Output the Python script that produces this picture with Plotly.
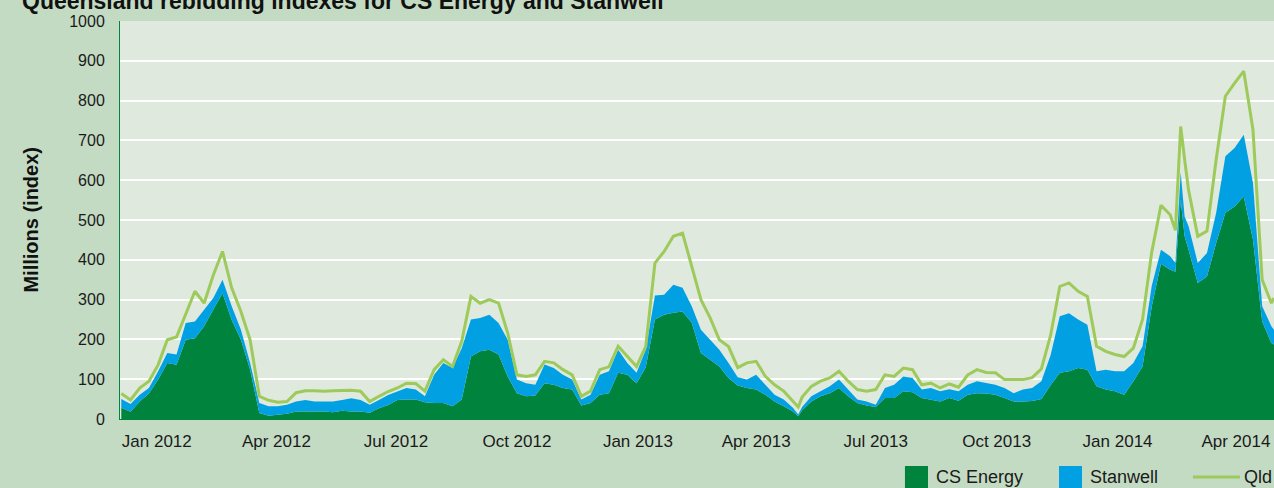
import plotly.graph_objects as go

dates = [
    "2011-12-05", "2011-12-12", "2011-12-19", "2011-12-26",
    "2012-01-02", "2012-01-09", "2012-01-16", "2012-01-23", "2012-01-30",
    "2012-02-06", "2012-02-13", "2012-02-20", "2012-02-27",
    "2012-03-05", "2012-03-12", "2012-03-19", "2012-03-26",
    "2012-04-02", "2012-04-09", "2012-04-16", "2012-04-23", "2012-04-30",
    "2012-05-07", "2012-05-14", "2012-05-21", "2012-05-28",
    "2012-06-04", "2012-06-11", "2012-06-18", "2012-06-25",
    "2012-07-02", "2012-07-09", "2012-07-16", "2012-07-23", "2012-07-30",
    "2012-08-06", "2012-08-13", "2012-08-20", "2012-08-27",
    "2012-09-03", "2012-09-10", "2012-09-17", "2012-09-24",
    "2012-10-01", "2012-10-08", "2012-10-15", "2012-10-22", "2012-10-29",
    "2012-11-05", "2012-11-12", "2012-11-19", "2012-11-26",
    "2012-12-03", "2012-12-10", "2012-12-17", "2012-12-24", "2012-12-31",
    "2013-01-07", "2013-01-14", "2013-01-21", "2013-01-28",
    "2013-02-04", "2013-02-11", "2013-02-18", "2013-02-25",
    "2013-03-04", "2013-03-11", "2013-03-18", "2013-03-25",
    "2013-04-01", "2013-04-08", "2013-04-15", "2013-04-22", "2013-04-29",
    "2013-05-03", "2013-05-06", "2013-05-13", "2013-05-20", "2013-05-27",
    "2013-06-03", "2013-06-10", "2013-06-17", "2013-06-24",
    "2013-07-01", "2013-07-08", "2013-07-15", "2013-07-22", "2013-07-29",
    "2013-08-05", "2013-08-12", "2013-08-19", "2013-08-26",
    "2013-09-02", "2013-09-09", "2013-09-16", "2013-09-23", "2013-09-30",
    "2013-10-07", "2013-10-14", "2013-10-21", "2013-10-28",
    "2013-11-04", "2013-11-11", "2013-11-18", "2013-11-25",
    "2013-12-02", "2013-12-09", "2013-12-16", "2013-12-23", "2013-12-30",
    "2014-01-06", "2014-01-13", "2014-01-20", "2014-01-27",
    "2014-02-03", "2014-02-10", "2014-02-14", "2014-02-18", "2014-02-21", "2014-02-24",
    "2014-03-03", "2014-03-10", "2014-03-17", "2014-03-24", "2014-03-31",
    "2014-04-07", "2014-04-14", "2014-04-21", "2014-04-28", "2014-04-30",
]

cs_energy = [
    28, 18, 44, 64,
    99, 141, 136, 199, 203,
    233, 275, 316, 249,
    199, 124, 15, 8,
    11, 13, 19, 19, 19,
    19, 17, 21, 19,
    19, 16, 27, 35,
    48, 49, 49, 42, 40,
    40, 32, 49, 157,
    170, 174, 162, 107,
    65, 57, 59, 90, 86,
    78, 74, 34, 40,
    61, 65, 116, 111, 90,
    130, 250, 262, 267,
    270, 242, 166, 149,
    132, 103, 84, 78,
    74, 61, 44, 32, 19,
    7, 22, 44, 57, 65,
    78, 57, 40, 34,
    30, 53, 53, 70, 67,
    53, 49, 44, 53,
    46, 61, 65, 64, 61,
    53, 44, 44, 45,
    50, 85, 116, 120,
    128, 124, 82, 74, 70,
    61, 95, 132, 283,
    390, 375, 370, 550, 459, 425,
    342, 358, 442, 518, 534,
    559, 451, 245, 191, 187,
]

stanwell = [
    22, 20, 17, 14,
    21, 25, 26, 42, 42,
    42, 29, 34, 34,
    25, 17, 25, 24,
    21, 23, 25, 29, 25,
    25, 27, 27, 33,
    29, 20, 21, 25,
    21, 29, 25, 15, 71,
    101, 96, 129, 93,
    84, 88, 79, 92,
    34, 33, 27, 47, 42,
    33, 25, 15, 21,
    50, 55, 58, 30, 26,
    44, 60, 50, 70,
    60, 41, 58, 50,
    42, 38, 21, 21,
    37, 25, 17, 17, 9,
    4, 8, 13, 13, 17,
    21, 17, 9, 10,
    6, 25, 33, 37, 36,
    21, 29, 26, 22,
    24, 25, 30, 26, 25,
    25, 21, 30, 33,
    45, 75, 142, 146,
    122, 113, 38, 50, 50,
    59, 46, 51, 52,
    35, 34, 22, 70, 50, 59,
    50, 59, 76, 142, 147,
    155, 142, 38, 42, 37,
]

qld = [
    64, 48, 78, 95,
    136, 199, 206, 262, 321,
    291, 362, 421, 329,
    270, 199, 57, 47,
    42, 44, 66, 71, 71,
    70, 71, 72, 72,
    70, 44, 57, 69,
    78, 90, 89, 70, 124,
    149, 132, 195, 308,
    291, 300, 291, 216,
    111, 107, 111, 145, 141,
    124, 111, 57, 70,
    124, 131, 183, 157, 132,
    182, 392, 421, 459,
    467, 383, 300, 254,
    199, 182, 129, 141,
    145, 107, 86, 70, 44,
    30, 55, 82, 95, 103,
    120, 95, 74, 70,
    74, 111, 107, 128, 124,
    86, 90, 78, 88,
    80, 111, 124, 117, 116,
    99, 99, 99, 104,
    126, 210, 333, 342,
    321, 308, 183, 170, 162,
    157, 178, 250, 420,
    537, 513, 474, 735, 652, 575,
    459, 472, 652, 811, 844,
    874, 727, 350, 291, 304,
]

series_names = ["CS Energy", "Stanwell", "Qld"]
tick_dates = ["2012-01-01", "2012-04-01", "2012-07-01", "2012-10-01", "2013-01-01",
              "2013-04-01", "2013-07-01", "2013-10-01", "2014-01-01", "2014-04-01"]
tick_labels = ["Jan 2012", "Apr 2012", "Jul 2012", "Oct 2012", "Jan 2013",
               "Apr 2013", "Jul 2013", "Oct 2013", "Jan 2014", "Apr 2014"]

GREEN = "#00843d"
BLUE = "#00a0e3"
LINE = "#9dca5a"
FONT = "Liberation Sans, Arial, sans-serif"
TXT = "#1a1a1a"

fig = go.Figure()
fig.add_trace(go.Scatter(x=dates, y=cs_energy, name=series_names[0], stackgroup="one",
                         mode="lines", line=dict(width=0, color=GREEN), fillcolor=GREEN))
fig.add_trace(go.Scatter(x=dates, y=stanwell, name=series_names[1], stackgroup="one",
                         mode="lines", line=dict(width=0, color=BLUE), fillcolor=BLUE))
fig.add_trace(go.Scatter(x=dates, y=qld, name=series_names[2], mode="lines",
                         line=dict(width=3, color=LINE)))

# legend drawn as swatches + labels below the plot (paper coordinates)
legend_shapes = [
    dict(type="rect", xref="paper", yref="paper", x0=0.6802, x1=0.7002, y0=-0.1181, y1=-0.18,
         fillcolor=GREEN, line=dict(width=0)),
    dict(type="rect", xref="paper", yref="paper", x0=0.8137, x1=0.8336, y0=-0.1181, y1=-0.18,
         fillcolor=BLUE, line=dict(width=0)),
    dict(type="line", xref="paper", yref="paper", x0=0.9298, x1=0.9705, y0=-0.1457, y1=-0.1457,
         line=dict(width=3, color=LINE)),
]
legend_labels = [
    dict(text=series_names[0], x=0.7050),
    dict(text=series_names[1], x=0.8388),
    dict(text=series_names[2], x=0.9722),
]
annotations = [
    dict(text=l["text"], xref="paper", yref="paper", x=l["x"], y=-0.1457,
         xanchor="left", yanchor="middle", showarrow=False,
         font=dict(size=18, color=TXT))
    for l in legend_labels
]
annotations += [
    dict(text="<b>Millions (index)</b>", textangle=-90, xref="paper", yref="paper",
         x=-0.0775, y=0.5, xanchor="center", yanchor="middle", showarrow=False,
         font=dict(size=20, color="#111111")),
    dict(text="<b>Queensland rebidding indexes for CS Energy and Stanwell</b>",
         xref="paper", yref="paper", x=-0.087, y=1.013, xanchor="left", yanchor="bottom",
         showarrow=False, font=dict(size=23, color="#111111")),
]

fig.update_layout(
    width=1274, height=488,
    paper_bgcolor="#c4dbc3",
    plot_bgcolor="#dfe9de",
    margin=dict(l=120, r=0, t=21, b=69),
    font=dict(family=FONT, size=16, color=TXT),
    showlegend=False,
    xaxis=dict(range=["2011-12-04", "2014-04-30"], tickvals=tick_dates, ticktext=tick_labels,
               showgrid=False, showline=True, linecolor=GREEN, linewidth=1,
               ticks="", ticklabelstandoff=7, zeroline=False, tickfont=dict(size=17)),
    yaxis=dict(range=[0, 1000], dtick=100, showgrid=True, gridcolor="#ffffff", gridwidth=2,
               showline=True, linecolor=GREEN, linewidth=1, ticks="",
               ticklabelstandoff=11, zeroline=False, tickfont=dict(size=16)),
    shapes=legend_shapes,
    annotations=annotations,
)

fig.write_html("out.html", config={"displayModeBar": False},
               post_script="document.body.style.margin='0';document.body.style.overflow='hidden';")
